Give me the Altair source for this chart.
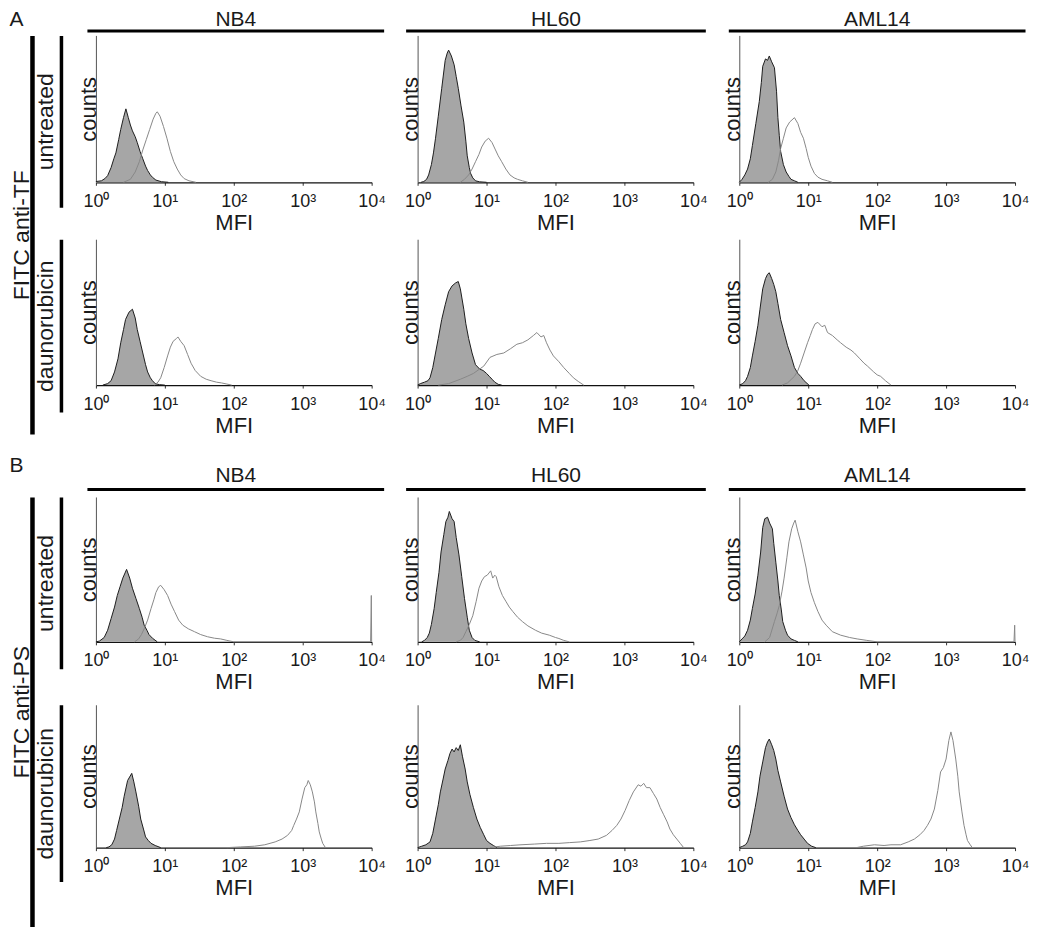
import altair as alt
import pandas as pd

FONT = "Liberation Sans"

PANEL_LETTERS = ["A", "B"]
STAININGS = ["FITC anti-TF", "FITC anti-PS"]
TREATMENTS = ["untreated", "daunorubicin"]
CELL_LINES = ["NB4", "HL60", "AML14"]
TICK_VALUES = [1, 10, 100, 1000, 10000]
TICK_LABELS = ["10⁰", "10¹", "10²", "10³", "10⁴"]
X_TITLE = "MFI"
Y_TITLE = "counts"

# Histograms: (log10 MFI, counts in % of axis height)
# CTRL = filled grey control histogram, STAIN = open stained histogram
TF_UNT_NB4_CTRL = [(0.0, 0.5), (0.08, 1), (0.13, 2.5), (0.17, 4.5), (0.22, 10), (0.26, 16), (0.29, 20), (0.33, 29), (0.36, 36), (0.4, 44), (0.435, 50), (0.47, 44), (0.5, 39), (0.53, 35), (0.57, 31), (0.6, 27), (0.64, 21), (0.68, 16), (0.72, 11), (0.75, 8), (0.79, 5), (0.82, 3.4), (0.87, 1.5), (0.95, 0.4), (1.05, 0)]
TF_UNT_NB4_STAIN = [(0.4, 0), (0.5, 2), (0.57, 7), (0.63, 14), (0.68, 22), (0.73, 29), (0.78, 36), (0.83, 43), (0.87, 47), (0.89, 48), (0.93, 45), (0.98, 38), (1.03, 30), (1.08, 21), (1.13, 14), (1.18, 9), (1.23, 5), (1.28, 2.5), (1.35, 1), (1.45, 0)]
TF_DAU_NB4_CTRL = [(0.1, 0), (0.17, 1), (0.22, 3), (0.27, 9), (0.32, 18), (0.36, 29), (0.4, 38), (0.43, 45), (0.48, 50), (0.53, 52), (0.57, 46), (0.6, 38), (0.64, 30), (0.68, 22), (0.72, 14), (0.75, 9), (0.79, 5), (0.82, 3), (0.86, 1), (0.92, 0.3), (1.0, 0)]
TF_DAU_NB4_STAIN = [(0.85, 0), (0.9, 2), (0.94, 5), (0.99, 12), (1.04, 20), (1.08, 26), (1.12, 30), (1.17, 32), (1.19, 33), (1.23, 30), (1.28, 27), (1.33, 21), (1.38, 15), (1.44, 10), (1.52, 6), (1.6, 4), (1.67, 3), (1.75, 2), (1.82, 1.5), (1.9, 0.7), (1.97, 0)]
TF_UNT_HL60_CTRL = [(0.05, 0), (0.09, 0.5), (0.13, 2), (0.16, 5), (0.2, 12), (0.23, 20), (0.26, 30), (0.3, 45), (0.35, 64), (0.4, 83), (0.43, 88), (0.45, 90), (0.49, 86), (0.53, 80), (0.56, 72), (0.59, 64), (0.63, 52), (0.67, 41), (0.7, 28), (0.72, 18), (0.75, 10), (0.77, 6), (0.8, 3), (0.84, 1), (0.9, 0.3), (1.0, 0)]
TF_UNT_HL60_STAIN = [(0.62, 0), (0.68, 2), (0.74, 5), (0.79, 9), (0.84, 14), (0.89, 19), (0.93, 24), (0.98, 28), (1.03, 30), (1.08, 27), (1.13, 22), (1.17, 18), (1.22, 14), (1.28, 9), (1.34, 5), (1.4, 3), (1.45, 2), (1.52, 1), (1.6, 0)]
TF_DAU_HL60_CTRL = [(0.0, 0), (0.04, 1), (0.1, 2), (0.15, 3), (0.18, 5), (0.22, 12), (0.26, 22), (0.3, 32), (0.35, 45), (0.4, 55), (0.45, 64), (0.5, 68), (0.55, 70), (0.59, 71), (0.62, 66), (0.67, 52), (0.7, 42), (0.74, 32), (0.79, 22), (0.84, 14), (0.9, 11), (0.95, 10), (1.0, 8), (1.04, 6), (1.08, 4), (1.12, 2), (1.17, 0.5), (1.22, 0)]
TF_DAU_HL60_STAIN = [(0.3, 0), (0.45, 1), (0.62, 4), (0.72, 6), (0.81, 8), (0.9, 11), (0.96, 13), (1.05, 19), (1.15, 21), (1.25, 22), (1.35, 25), (1.44, 28), (1.52, 29), (1.6, 31), (1.68, 34), (1.73, 36), (1.79, 33), (1.83, 34), (1.87, 29), (1.92, 24), (1.97, 20), (2.05, 16), (2.12, 12), (2.2, 8), (2.26, 5), (2.33, 2.5), (2.41, 0)]
TF_UNT_AML14_CTRL = [(0.0, 0), (0.04, 2), (0.08, 5), (0.12, 9), (0.16, 16), (0.19, 25), (0.24, 40), (0.29, 55), (0.32, 68), (0.34, 79), (0.38, 84), (0.41, 83), (0.435, 86), (0.47, 82), (0.51, 78), (0.54, 62), (0.56, 44), (0.58, 32), (0.6, 21), (0.64, 12), (0.68, 7), (0.72, 4), (0.75, 2), (0.8, 1), (0.85, 0)]
TF_UNT_AML14_STAIN = [(0.42, 0), (0.48, 2), (0.53, 7), (0.57, 15), (0.6, 23), (0.64, 30), (0.68, 37), (0.73, 41), (0.8, 44), (0.85, 40), (0.89, 34), (0.93, 30), (0.97, 23), (1.0, 17), (1.04, 11), (1.09, 6), (1.14, 3.5), (1.2, 2), (1.28, 1), (1.35, 0)]
TF_DAU_AML14_CTRL = [(0.0, 0), (0.05, 1), (0.09, 3), (0.12, 6), (0.16, 12), (0.19, 20), (0.23, 30), (0.27, 41), (0.3, 52), (0.34, 66), (0.38, 73), (0.41, 76), (0.435, 77), (0.47, 73), (0.5, 69), (0.53, 64), (0.56, 56), (0.6, 45), (0.65, 36), (0.7, 27), (0.75, 20), (0.8, 12), (0.85, 8), (0.89, 6), (0.94, 3), (1.01, 0)]
TF_DAU_AML14_STAIN = [(0.62, 0), (0.7, 1.5), (0.8, 6), (0.85, 10), (0.89, 15), (0.94, 22), (0.99, 29), (1.03, 34), (1.06, 38), (1.1, 42), (1.14, 43), (1.2, 40), (1.24, 41), (1.28, 36), (1.35, 34), (1.42, 31), (1.47, 29), (1.55, 26), (1.62, 24), (1.67, 22), (1.75, 18), (1.81, 15), (1.86, 13), (1.95, 9), (2.0, 7), (2.05, 6), (2.12, 3), (2.2, 0)]

PS_UNT_NB4_CTRL = [(0.0, 0), (0.05, 0.5), (0.12, 3), (0.17, 8), (0.22, 16), (0.27, 24), (0.31, 32), (0.35, 38), (0.39, 44), (0.445, 50), (0.49, 44), (0.53, 37), (0.58, 30), (0.63, 23), (0.67, 17), (0.7, 11.5), (0.74, 8), (0.77, 5), (0.82, 2.5), (0.89, 0)]
PS_UNT_NB4_STAIN = [(0.56, 0), (0.62, 2), (0.66, 5), (0.7, 9), (0.75, 15), (0.8, 23), (0.84, 29), (0.87, 34), (0.91, 38), (0.94, 39), (0.99, 36), (1.04, 32), (1.09, 26), (1.14, 21), (1.2, 15), (1.26, 11.5), (1.34, 9), (1.43, 7), (1.52, 5), (1.62, 3.5), (1.72, 2.5), (1.81, 2), (1.9, 1), (2.0, 0), (3.985, 0), (3.995, 32), (4.0, 0)]
PS_DAU_NB4_CTRL = [(0.15, 0), (0.19, 0.5), (0.23, 2), (0.27, 6), (0.3, 12), (0.34, 20), (0.38, 28), (0.41, 36), (0.46, 47), (0.52, 52), (0.55, 46), (0.58, 39), (0.62, 29), (0.65, 20), (0.69, 13), (0.72, 7.5), (0.76, 5), (0.8, 3), (0.86, 1.5), (0.94, 0)]
PS_DAU_NB4_STAIN = [(1.9, 0), (2.1, 0.5), (2.3, 1), (2.45, 2), (2.6, 4), (2.7, 6), (2.78, 8.6), (2.84, 12), (2.87, 15.6), (2.91, 20), (2.95, 25), (2.99, 34), (3.03, 42), (3.06, 44), (3.08, 47), (3.11, 44), (3.14, 39), (3.17, 32), (3.19, 25), (3.22, 17), (3.24, 11), (3.27, 6), (3.29, 3), (3.33, 0)]
PS_UNT_HL60_CTRL = [(0.06, 0), (0.1, 1), (0.14, 3), (0.17, 6), (0.2, 12), (0.24, 23), (0.27, 34), (0.31, 48), (0.34, 62), (0.38, 74), (0.41, 83), (0.44, 86), (0.46, 90), (0.5, 85), (0.53, 83), (0.56, 72), (0.6, 60), (0.64, 45), (0.68, 30), (0.72, 17), (0.75, 8), (0.79, 3), (0.83, 1), (0.9, 0)]
PS_UNT_HL60_STAIN = [(0.56, 0), (0.62, 1), (0.66, 3), (0.7, 7), (0.75, 12), (0.8, 18), (0.85, 28), (0.89, 37), (0.93, 42), (0.97, 45), (1.01, 46), (1.06, 49), (1.09, 44), (1.12, 46), (1.14, 45), (1.18, 38), (1.23, 32), (1.28, 28), (1.33, 24), (1.38, 21), (1.45, 17), (1.52, 14), (1.6, 11), (1.71, 8), (1.8, 6), (1.91, 4.6), (2.0, 3), (2.05, 2.3), (2.12, 1), (2.2, 0)]
PS_DAU_HL60_CTRL = [(0.0, 0), (0.06, 1), (0.12, 2), (0.18, 4), (0.22, 10), (0.26, 20), (0.3, 30), (0.33, 39), (0.37, 48), (0.4, 55), (0.44, 61), (0.47, 66), (0.5, 69), (0.53, 67), (0.56, 70), (0.59, 68), (0.62, 72), (0.65, 64), (0.69, 55), (0.72, 46), (0.76, 37), (0.81, 28), (0.86, 20), (0.91, 14), (0.96, 9), (1.0, 5), (1.05, 3), (1.1, 1.5), (1.15, 0)]
PS_DAU_HL60_STAIN = [(1.05, 0), (1.2, 1), (1.35, 1.5), (1.5, 2), (1.7, 2.5), (1.87, 3), (2.05, 3), (2.2, 3.5), (2.36, 4), (2.5, 5), (2.62, 6), (2.74, 8.6), (2.82, 12), (2.89, 15.6), (2.95, 20), (3.01, 26), (3.07, 33), (3.13, 39), (3.2, 44), (3.24, 43), (3.28, 45), (3.32, 42), (3.37, 42), (3.42, 38), (3.47, 34), (3.52, 28), (3.57, 23), (3.62, 18), (3.66, 13), (3.71, 9), (3.76, 6), (3.81, 3), (3.86, 0)]
PS_UNT_AML14_CTRL = [(0.0, 0), (0.04, 2), (0.08, 4), (0.12, 8), (0.16, 15), (0.19, 23), (0.23, 33), (0.27, 46), (0.31, 62), (0.34, 79), (0.37, 85), (0.41, 86), (0.44, 82), (0.48, 78), (0.5, 68), (0.53, 55), (0.56, 42), (0.58, 32), (0.61, 22), (0.63, 14), (0.67, 8), (0.7, 4.6), (0.75, 2), (0.8, 1), (0.85, 0)]
PS_UNT_AML14_STAIN = [(0.37, 0), (0.44, 3), (0.51, 14), (0.55, 20), (0.58, 25), (0.62, 35), (0.65, 44), (0.69, 58), (0.72, 69), (0.76, 78), (0.79, 82), (0.81, 84), (0.85, 76), (0.89, 69), (0.93, 60), (0.97, 51), (1.0, 42), (1.04, 34), (1.09, 27), (1.14, 21), (1.2, 15), (1.26, 11.5), (1.35, 7), (1.47, 4.6), (1.6, 3), (1.71, 2), (1.85, 1), (2.0, 0), (3.985, 0), (3.995, 11.5), (4.0, 0)]
PS_DAU_AML14_CTRL = [(0.0, 0), (0.05, 1), (0.09, 2), (0.12, 4), (0.16, 10), (0.19, 18), (0.23, 28), (0.27, 39), (0.3, 50), (0.34, 60), (0.38, 70), (0.41, 74), (0.435, 76), (0.47, 72), (0.5, 68), (0.53, 62), (0.56, 54), (0.6, 46), (0.65, 36), (0.7, 27), (0.75, 21), (0.8, 16), (0.85, 12), (0.89, 9), (0.94, 6), (0.99, 3), (1.05, 1), (1.11, 0)]
PS_DAU_AML14_STAIN = [(1.7, 0), (1.8, 1), (1.96, 2), (2.1, 1.5), (2.2, 2), (2.34, 2), (2.45, 4), (2.54, 6), (2.62, 9), (2.68, 12), (2.73, 15.6), (2.78, 20), (2.83, 27), (2.88, 40), (2.92, 53), (2.96, 56), (3.0, 62), (3.04, 75), (3.07, 81), (3.1, 75), (3.14, 62), (3.17, 50), (3.19, 39), (3.23, 25), (3.26, 15.6), (3.29, 9), (3.31, 5), (3.35, 2), (3.38, 0)]

HISTOGRAMS = [
    [[(TF_UNT_NB4_CTRL, TF_UNT_NB4_STAIN), (TF_UNT_HL60_CTRL, TF_UNT_HL60_STAIN), (TF_UNT_AML14_CTRL, TF_UNT_AML14_STAIN)],
     [(TF_DAU_NB4_CTRL, TF_DAU_NB4_STAIN), (TF_DAU_HL60_CTRL, TF_DAU_HL60_STAIN), (TF_DAU_AML14_CTRL, TF_DAU_AML14_STAIN)]],
    [[(PS_UNT_NB4_CTRL, PS_UNT_NB4_STAIN), (PS_UNT_HL60_CTRL, PS_UNT_HL60_STAIN), (PS_UNT_AML14_CTRL, PS_UNT_AML14_STAIN)],
     [(PS_DAU_NB4_CTRL, PS_DAU_NB4_STAIN), (PS_DAU_HL60_CTRL, PS_DAU_HL60_STAIN), (PS_DAU_AML14_CTRL, PS_DAU_AML14_STAIN)]],
]

# ---- layout (pixels inside the single view) ----
W, H = 1034, 918
PANEL_W = 276
PANEL_X = [87, 409, 731]
PANEL_ROWS = [[(25, 172), (229, 375)], [(487, 632), (695, 838)]]   # (top, bottom)
HEADER_LINE_Y = [20, 479]
HEADER_PAD = [5, 7]
LETTER_PAD = [5, 17.5]
HEADER_X = [(78, 375), (397, 697), (720, 1017)]
LETTER_X = (0, 18)
OUTER_BAR_X = 23
OUTER_BAR_PAD = 3.5
OUTER_FONT = 23
INNER_BAR_X = 52
INNER_BAR_PAD = 8
OUTER_BAR_Y = [(25, 424), (487, 917)]
INNER_BAR_Y = [[(25, 197), (229, 402)], [(487, 659), (695, 872)]]

TXT = dict(titleFont=FONT, titleFontWeight="normal", titleColor="#1a1a1a")


def to_df(points):
    return pd.DataFrame({"mfi": [10 ** e for e, _ in points], "counts": [c for _, c in points]})


label_expr = ""
for i, v in enumerate(TICK_VALUES[:-1]):
    label_expr += f"datum.value < {v * 3} ? '{TICK_LABELS[i]}' : "
label_expr += f"'{TICK_LABELS[-1]}'"


def panel(ctrl, stain, x0, top, bottom):
    x = alt.X("mfi:Q", scale=alt.Scale(type="log", domain=[1, 10000], range=[x0, x0 + PANEL_W], nice=False),
              axis=alt.Axis(orient="bottom", offset=bottom - H, values=TICK_VALUES, labelExpr=label_expr,
                            title=X_TITLE, grid=False, domainColor="#111", domainWidth=1.2, tickColor="#333",
                            tickSize=3, tickWidth=1, labelFont=FONT, labelFontSize=18, labelColor="#1a1a1a",
                            labelPadding=7, labelFlush=False, labelOverlap=False, titleFontSize=22,
                            titlePadding=2, minExtent=0, **TXT))
    y = alt.Y("counts:Q", stack=None,
              scale=alt.Scale(domain=[0, 100], range=[bottom, top], nice=False),
              axis=alt.Axis(orient="left", offset=-x0, title=Y_TITLE, labels=False, ticks=False, grid=False,
                            domainColor="#555", domainWidth=1, titleFontSize=22, titlePadding=0,
                            titleBaseline="alphabetic", minExtent=0, **TXT))
    dc = to_df(ctrl)
    ds = to_df(stain)
    area = alt.Chart(dc).mark_area(color="#a6a6a6", interpolate="linear").encode(x=x, y=y)
    outline = alt.Chart(dc).mark_line(color="#1e1e1e", strokeWidth=1).encode(x=x, y=y)
    open_line = alt.Chart(ds).mark_line(color="#888888", strokeWidth=1).encode(x=x, y=y)
    return alt.layer(area, outline, open_line)


def frame(x_range, y_range, x_axis, y_axis):
    """An empty layer whose own axes draw header rules, side bars and their labels."""
    df = pd.DataFrame({"u": [0.0], "v": [0.0]})
    return alt.Chart(df).mark_point(opacity=0, size=1).encode(
        x=alt.X("u:Q", scale=alt.Scale(domain=[0, 1], range=list(x_range), nice=False), axis=x_axis),
        y=alt.Y("v:Q", scale=alt.Scale(domain=[0, 1], range=[y_range[1], y_range[0]], nice=False), axis=y_axis))


def header_axis(text, line_y, pad):
    return alt.Axis(orient="top", offset=-line_y, domainWidth=3, domainColor="black", ticks=False, labels=False,
                    grid=False, title=text, titleFontSize=21, titlePadding=pad, titleBaseline="alphabetic",
                    minExtent=0, **TXT)


def bar_axis(text, bar_x, width, pad, size):
    return alt.Axis(orient="left", offset=-bar_x, domainWidth=width, domainColor="black", ticks=False,
                    labels=False, grid=False, title=text, titleFontSize=size, titlePadding=pad,
                    titleBaseline="alphabetic", minExtent=0, **TXT)


layers = []
for b in range(2):
    line_y = HEADER_LINE_Y[b]
    # panel letter + outer bar with staining label
    letter_axis = alt.Axis(orient="top", offset=-line_y, domain=False, ticks=False, labels=False, grid=False,
                           title=PANEL_LETTERS[b], titleAnchor="start", titleAlign="left", titleFontSize=21,
                           titlePadding=LETTER_PAD[b], titleBaseline="alphabetic", minExtent=0, **TXT)
    layers.append(frame(LETTER_X, OUTER_BAR_Y[b], letter_axis,
                        bar_axis(STAININGS[b], OUTER_BAR_X, 4.5, OUTER_BAR_PAD, OUTER_FONT)))
    # column headers, paired with the treatment bars
    for j, name in enumerate(CELL_LINES):
        y_axis = bar_axis(TREATMENTS[j], INNER_BAR_X, 3.5, INNER_BAR_PAD, 23) if j < 2 else None
        y_range = INNER_BAR_Y[b][j] if j < 2 else INNER_BAR_Y[b][0]
        layers.append(frame(HEADER_X[j], y_range, header_axis(name, line_y, HEADER_PAD[b]), y_axis))
    # histogram panels
    for r in range(2):
        top, bottom = PANEL_ROWS[b][r]
        for j in range(3):
            ctrl, stain = HISTOGRAMS[b][r][j]
            layers.append(panel(ctrl, stain, PANEL_X[j], top, bottom))

chart = alt.layer(*layers).resolve_scale(x="independent", y="independent").resolve_axis(
    x="independent", y="independent"
).properties(width=W, height=H, padding=0, background="white").configure_view(stroke=None)

chart.save("out.html", embed_options={"renderer": "svg", "actions": False})
